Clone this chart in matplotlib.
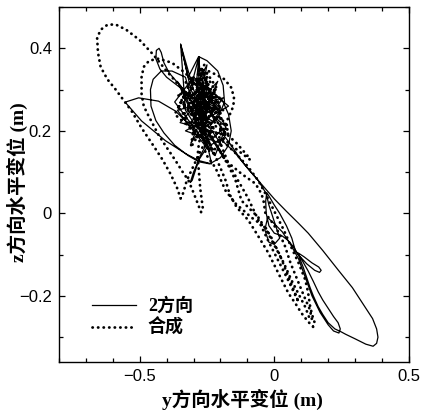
import matplotlib
matplotlib.use("Agg")
import matplotlib.pyplot as plt
from matplotlib.ticker import MultipleLocator, FixedLocator

# ---- data (y-direction, z-direction horizontal displacement, m) ----
two_dir_y = [
    -0.27, -0.31, -0.348, -0.30, -0.26, -0.32, -0.28, -0.29, -0.25, -0.27, -0.24,
    -0.30, -0.36, -0.40, -0.425, -0.44, -0.438, -0.428, -0.42, -0.41, -0.39, -0.35, -0.31,
    -0.33, -0.38, -0.42, -0.45, -0.46, -0.458, -0.44, -0.41, -0.37, -0.32, -0.28, -0.24,
    -0.20, -0.17, -0.16, -0.17, -0.19, -0.22, -0.26,
    -0.22, -0.30, -0.26, -0.21, -0.27, -0.23,
    -0.20, -0.16, -0.122, -0.08, -0.04, 0.0, 0.045, 0.09, 0.126, 0.18, 0.237, 0.29,
    0.337, 0.365, 0.38, 0.385, 0.38, 0.367, 0.34, 0.30, 0.265, 0.248,
    0.225, 0.20, 0.18, 0.163, 0.145, 0.133, 0.12, 0.107, 0.095, 0.089,
    0.11, 0.14, 0.165, 0.174, 0.168, 0.15, 0.12, 0.089,
    0.07, 0.05, 0.03, 0.0, -0.02, -0.03, -0.032, -0.028, -0.018, 0.0, 0.02, 0.045, 0.065, 0.078,
    0.10, 0.126, 0.145, 0.163, 0.18, 0.20, 0.22, 0.237, 0.245, 0.24, 0.22,
    0.20, 0.17, 0.14, 0.115, 0.09, 0.06, 0.03, 0.0, -0.025, -0.035, -0.02, 0.0,
    0.02, 0.0, -0.02, -0.03, -0.06, -0.10, -0.15, -0.20,
    -0.25, -0.28, -0.30, -0.312, -0.305, -0.29, -0.275, -0.25,
    -0.233, -0.281, -0.33, -0.404, -0.493, -0.548, -0.552, -0.504, -0.43, -0.367, -0.33, -0.29,
    -0.25, -0.31, -0.25, -0.29, -0.22, -0.27, -0.26, -0.31, -0.24, -0.20, -0.28,
    -0.281, -0.25, -0.21, -0.19, -0.185, -0.21, -0.26, -0.30, -0.33, -0.348, -0.32,
    -0.281, -0.27, -0.25, -0.27,
    -0.36, -0.20, -0.33, -0.17, -0.30, -0.37, -0.22, -0.18, -0.34, -0.24, -0.36, -0.19,
    -0.31, -0.21, -0.35, -0.18, -0.27,
]
two_dir_z = [
    0.25, 0.30, 0.41, 0.30, 0.24, 0.28, 0.38, 0.31, 0.36, 0.29, 0.25,
    0.28, 0.31, 0.33, 0.35, 0.375, 0.395, 0.40, 0.39, 0.365, 0.34, 0.31, 0.28,
    0.33, 0.345, 0.345, 0.325, 0.30, 0.26, 0.225, 0.195, 0.165, 0.14, 0.125, 0.12,
    0.135, 0.165, 0.20, 0.24, 0.27, 0.29, 0.28,
    0.22, 0.25, 0.31, 0.27, 0.20, 0.18,
    0.20, 0.165, 0.128, 0.095, 0.065, 0.035, 0.005, -0.024, -0.048, -0.09, -0.137, -0.18,
    -0.227, -0.255, -0.28, -0.30, -0.315, -0.322, -0.317, -0.304, -0.293, -0.287,
    -0.28, -0.265, -0.245, -0.226, -0.20, -0.18, -0.155, -0.13, -0.11, -0.096,
    -0.105, -0.12, -0.13, -0.138, -0.143, -0.138, -0.122, -0.10,
    -0.08, -0.065, -0.055, -0.048, -0.03, 0.0, 0.03, 0.05, 0.04, 0.02, 0.0, -0.03, -0.06, -0.09,
    -0.11, -0.14, -0.165, -0.19, -0.21, -0.23, -0.25, -0.265, -0.28, -0.29, -0.285,
    -0.27, -0.24, -0.20, -0.155, -0.11, -0.075, -0.045, -0.025, -0.01, -0.04, -0.07, -0.075,
    -0.06, -0.02, 0.02, 0.048, 0.08, 0.11, 0.15, 0.18,
    0.16, 0.13, 0.10, 0.075, 0.08, 0.11, 0.14, 0.17,
    0.12, 0.128, 0.145, 0.176, 0.224, 0.265, 0.27, 0.28, 0.272, 0.248, 0.224, 0.21,
    0.27, 0.33, 0.30, 0.24, 0.25, 0.35, 0.26, 0.22, 0.21, 0.25, 0.28,
    0.38, 0.37, 0.345, 0.31, 0.27, 0.23, 0.21, 0.22, 0.25, 0.41, 0.33,
    0.38, 0.30, 0.23, 0.19,
    0.32, 0.17, 0.20, 0.26, 0.33, 0.27, 0.14, 0.21, 0.30, 0.15, 0.25, 0.28,
    0.17, 0.32, 0.22, 0.19, 0.28,
]

combined_y = [
    -0.26, -0.30, -0.25, -0.32, -0.27, -0.23, -0.29, -0.26, -0.31, -0.24, -0.28, -0.33,
    -0.34, -0.40, -0.45, -0.50, -0.55, -0.59, -0.62, -0.645, -0.658, -0.655, -0.645, -0.62,
    -0.589, -0.555, -0.53, -0.493, -0.45, -0.415, -0.385, -0.36, -0.348, -0.338, -0.325,
    -0.30, -0.275, -0.25,
    -0.28, -0.22, -0.27, -0.21, -0.25, -0.29, -0.23, -0.26, -0.20,
    -0.20, -0.23, -0.26, -0.281, -0.245, -0.219, -0.185, -0.159, -0.150, -0.152, -0.165,
    -0.181, -0.20,
    -0.17, -0.13, -0.09, -0.10, -0.14, -0.19,
    -0.24, -0.29, -0.27, -0.23, -0.30, -0.26,
    -0.22, -0.20, -0.181, -0.165, -0.14, -0.096, -0.06, -0.022, 0.015, 0.052, 0.08, 0.10,
    0.125, 0.144, 0.15, 0.14, 0.133, 0.125, 0.115, 0.09, 0.063, 0.035, 0.004, -0.033,
    -0.06, -0.10, -0.15, -0.20,
    -0.25, -0.31, -0.28, -0.24, -0.27,
    -0.28, -0.33, -0.38, -0.43, -0.465, -0.485, -0.493, -0.493, -0.485, -0.47, -0.45,
    -0.43, -0.40, -0.367, -0.34, -0.319, -0.30, -0.285, -0.272, -0.265, -0.27, -0.275,
    -0.28, -0.285, -0.28,
    -0.26, -0.30, -0.25, -0.21, -0.24,
    -0.20, -0.17, -0.144, -0.122, -0.09, -0.059, -0.03, 0.004, 0.035, 0.063, 0.09, 0.115,
    0.133, 0.14, 0.13, 0.11, 0.085, 0.06, 0.04, 0.02, -0.01, -0.033, -0.04, -0.048,
    -0.07, -0.122, -0.181, -0.22,
    -0.27, -0.23, -0.28, -0.25, -0.29, -0.24, -0.30, -0.22, -0.26, -0.32, -0.27,
    -0.256, -0.219, -0.181, -0.144, -0.085, -0.033, -0.01, 0.02, 0.05, 0.075, 0.09,
    0.05, -0.02, -0.10, -0.17,
    -0.20, -0.34, -0.22, -0.36, -0.19, -0.30, -0.37, -0.21, -0.17, -0.33, -0.24, -0.36,
    -0.20, -0.31, -0.27, -0.17, -0.35, -0.25, -0.19,
]
combined_z = [
    0.24, 0.29, 0.31, 0.26, 0.22, 0.27, 0.33, 0.36, 0.30, 0.23, 0.18, 0.22,
    0.30, 0.345, 0.385, 0.42, 0.445, 0.458, 0.457, 0.445, 0.425, 0.39, 0.355, 0.325,
    0.300, 0.27, 0.248, 0.207, 0.165, 0.13, 0.095, 0.06, 0.036, 0.05, 0.08,
    0.115, 0.15, 0.18,
    0.24, 0.26, 0.30, 0.30, 0.34, 0.27, 0.21, 0.17, 0.20,
    0.25, 0.31, 0.34, 0.349, 0.345, 0.337, 0.325, 0.304, 0.28, 0.26, 0.24,
    0.217, 0.19,
    0.17, 0.15, 0.13, 0.14, 0.17, 0.20,
    0.25, 0.30, 0.35, 0.29, 0.23, 0.20,
    0.14, 0.11, 0.08, 0.045, 0.015, -0.017, -0.055, -0.096, -0.145, -0.193, -0.22, -0.241,
    -0.262, -0.275, -0.265, -0.245, -0.225, -0.19, -0.161, -0.12, -0.082, -0.04, 0.0, 0.048,
    0.08, 0.115, 0.15, 0.18,
    0.23, 0.27, 0.31, 0.27, 0.21,
    0.30, 0.34, 0.365, 0.375, 0.37, 0.355, 0.33, 0.29, 0.26, 0.24, 0.215,
    0.19, 0.16, 0.128, 0.10, 0.08, 0.05, 0.025, 0.003, 0.01, 0.035, 0.06,
    0.10, 0.14, 0.17,
    0.22, 0.26, 0.29, 0.24, 0.19,
    0.15, 0.115, 0.08, 0.031, 0.01, -0.010, -0.04, -0.082, -0.12, -0.161, -0.195, -0.227,
    -0.258, -0.255, -0.23, -0.20, -0.16, -0.12, -0.08, -0.05, -0.02, 0.0, 0.03, 0.048,
    0.072, 0.096, 0.128, 0.17,
    0.22, 0.28, 0.26, 0.32, 0.21, 0.19, 0.27, 0.30, 0.24, 0.29, 0.33,
    0.145, 0.111, 0.055, 0.024, -0.010, -0.034, -0.06, -0.10, -0.15, -0.19, -0.215,
    -0.16, -0.07, 0.04, 0.12,
    0.17, 0.30, 0.14, 0.26, 0.25, 0.33, 0.24, 0.15, 0.21, 0.32, 0.17, 0.29,
    0.28, 0.16, 0.34, 0.19, 0.27, 0.20, 0.14,
]

series_labels = ["2方向", "合成"]
x_major = [-0.5, 0.0, 0.5]
x_major_labels = ["\u22120.5", "0", "0.5"]
y_major = [-0.2, 0.0, 0.2, 0.4]
y_major_labels = ["\u22120.2", "0", "0.2", "0.4"]
x_label = "y方向水平变位 (m)"
y_label = "z方向水平变位 (m)"

# ---- drawing ----
plt.rcParams['font.family'] = ['Liberation Sans', 'Noto Sans CJK SC']
fig = plt.figure(figsize=(4.30, 4.16), dpi=100)
ax = fig.add_axes([0.137, 0.130, 0.814, 0.853])

ax.plot(two_dir_y, two_dir_z, color='black', lw=0.9, label=series_labels[0])
ax.plot(combined_y, combined_z, color='black', lw=2.0,
        linestyle=(0, (0.1, 1.9)), dash_capstyle='round', label=series_labels[1])

ax.set_xlim(-0.8, 0.5)
ax.set_ylim(-0.36, 0.5)
ax.xaxis.set_major_locator(FixedLocator(x_major))
ax.set_xticklabels(x_major_labels)
ax.yaxis.set_major_locator(FixedLocator(y_major))
ax.set_yticklabels(y_major_labels)
ax.xaxis.set_minor_locator(MultipleLocator(0.1))
ax.yaxis.set_minor_locator(MultipleLocator(0.1))
ax.tick_params(which='both', direction='in', top=True, right=True, width=0.9)
ax.tick_params(which='major', length=4, labelsize=12, pad=5)
ax.tick_params(which='minor', length=3)
for s in ax.spines.values():
    s.set_linewidth(1.0)

lab_font = dict(family=['Liberation Serif', 'Noto Sans CJK SC'], weight='bold', size=14)
ax.set_xlabel(x_label, fontdict=lab_font)
ax.xaxis.set_label_coords(0.523, -0.075)
ax.set_ylabel(y_label, fontdict=lab_font)
ax.yaxis.set_label_coords(-0.088, 0.507)

leg = ax.legend(loc='lower left', bbox_to_anchor=(0.094, 0.070), frameon=False,
                borderaxespad=0.0, borderpad=0.0,
                handlelength=2.45, handletextpad=0.65, labelspacing=0.2,
                prop=dict(family=['Liberation Serif', 'Noto Sans CJK SC'], weight='bold', size=13))

fig.savefig("out.png", dpi=100)
